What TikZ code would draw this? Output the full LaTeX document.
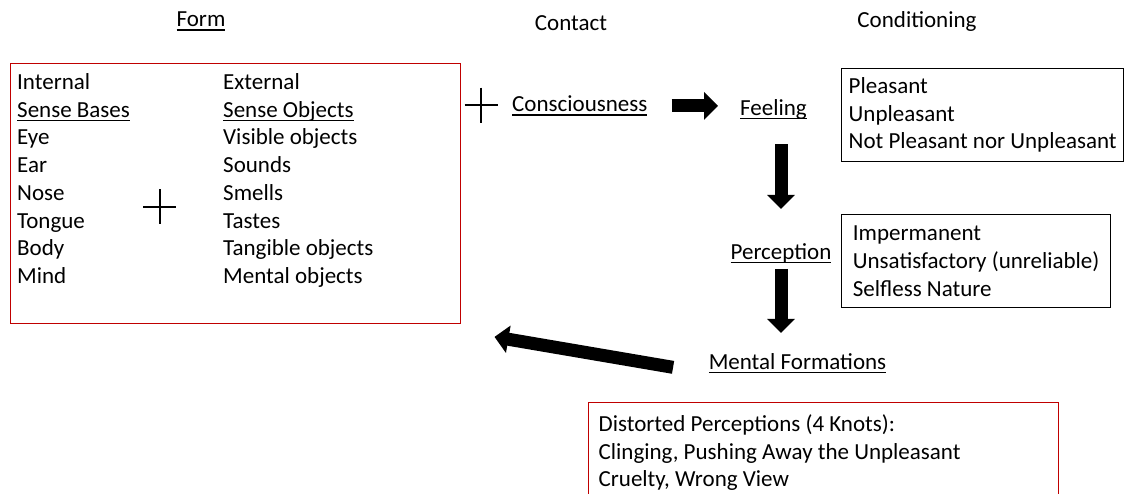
\documentclass[tikz,border=0pt]{standalone}
\usepackage{fontspec}
\setmainfont{Carlito}
\usepackage{xcolor}
\usetikzlibrary{arrows.meta}
\definecolor{boxred}{RGB}{192,0,0}
\newcommand{\undl}[1]{\setbox0\hbox{#1}\rlap{\vrule height -2.7pt depth 4.2pt width \wd0}\box0}

\begin{document}
\begin{tikzpicture}[x=1pt,y=-1pt,
  every node/.style={font=\fontsize{23}{27.7}\selectfont, inner sep=0pt},
  lbl/.style={anchor=base west},
  fat/.style={line width=13pt, -{Triangle[width=27pt,length=14pt]}},
  blackbox/.style={draw, line width=1.3pt, anchor=north west, align=flush left},
  redbox/.style={draw=boxred, line width=1.3pt, anchor=north west, align=flush left},
  plus sign/.pic={\draw[line width=2pt] (-16.5,0)--(16.5,0) (0,-17.5)--(0,17.5);}]
\useasboundingbox (0,0) rectangle (1124,493);

% headings
\node[anchor=base] (form) at (201,26.7) {\undl{Form}};
\node[anchor=base] (contact) at (571,30) {Contact};
\node[anchor=base] (cond) at (917,27) {Conditioning};

% sense bases + sense objects
\node[redbox, minimum width=450pt, minimum height=260pt] (formbox) at (10,63) {};
\foreach \t [count=\i] in {Internal,\undl{Sense Bases},Eye,Ear,Nose,Tongue,Body,Mind}
  \node[lbl] (base\i) at (17,{89.5+27.7*(\i-1)}) {\t};
\foreach \t [count=\i] in {External,\undl{Sense Objects},Visible objects,Sounds,Smells,Tastes,Tangible objects,Mental objects}
  \node[lbl] (obj\i) at (223,{89.5+27.7*(\i-1)}) {\t};
\pic at (159.5,206.5) {plus sign};
\pic at (481,105) {plus sign};

% the chain
\node[lbl] (consc) at (512,111.7) {\undl{Consciousness}};
\node[lbl] (feel) at (740,115) {\undl{Feeling}};
\node[anchor=base] (perc) at (781,259) {\undl{Perception}};
\node[anchor=base] (mf) at (797.5,369) {\undl{Mental Formations}};

% conditioning boxes
\node[blackbox, minimum width=282pt, minimum height=93pt] (pleas) at (841,68)
  {Pleasant\\Unpleasant\\Not Pleasant nor Unpleasant};
\node[blackbox, minimum width=269pt, minimum height=93pt] (imperm) at (841,214)
  {Impermanent\\Unsatisfactory (unreliable)\\Selfless Nature};
\node[redbox, text width=450pt, inner xsep=10pt, minimum height=100pt] (knots) at (588,402)
  {Distorted Perceptions (4 Knots):\\Clinging, Pushing Away the Unpleasant\\Cruelty, Wrong View};

% arrows
\coordinate (ret) at (460,331);
\draw[fat, shorten <=24pt, shorten >=22pt] (consc.east) -- (feel.west |- consc.east);
\draw[fat, shorten <=25pt, shorten >=34pt] (perc.north |- feel.south) -- (perc.north);
\draw[fat, shorten <=5.5pt, shorten >=20pt] (perc.south) -- (perc.south |- mf.north);
\draw[fat, shorten <=36pt, shorten >=35pt] (mf.south west) -- (ret);
\end{tikzpicture}
\end{document}
